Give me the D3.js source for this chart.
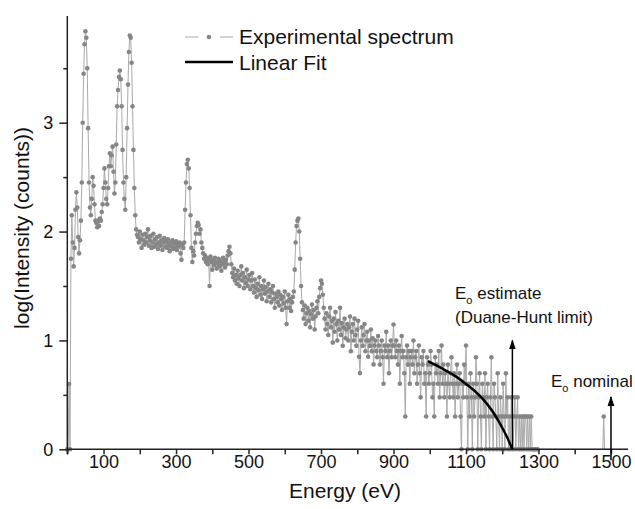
<!DOCTYPE html>
<html>
<head>
<meta charset="utf-8">
<script src="https://cdn.jsdelivr.net/npm/d3@7"></script>
<style>
  body { margin: 0; background: #fff; }
  svg { display: block; font-family: "Liberation Sans", Arial, sans-serif; }
</style>
</head>
<body>
<svg id="chart" width="635" height="509"></svg>
<script>
// log10 counts per 2.5 eV channel, starting at 0 eV (one line = 50 eV)
const energyStep = 2.5
const logCounts = [
  0, 0, 0.6, 0, 1.75, 2.15, 1.9, 1.68, 1.85, 2.2, 2.36, 2.22, 1.95, 1.8, 1.92, 2.1, 2.45, 3.0, 3.45, 3.72,          // 0
  3.84, 3.78, 3.5, 2.95, 2.45, 2.22, 2.15, 2.3, 2.5, 2.42, 2.25, 2.1, 2.08, 2.04, 2.1, 2.05, 2.12, 2.1, 2.18, 2.25,  // 50
  2.4, 2.58, 2.45, 2.3, 2.25, 2.4, 2.6, 2.72, 2.6, 2.7, 2.78, 2.55, 2.35, 2.45, 2.8, 3.15, 3.3, 3.42, 3.48, 3.4,     // 100
  3.15, 2.75, 2.45, 2.3, 2.2, 2.5, 2.95, 3.35, 3.65, 3.8, 3.78, 3.55, 3.15, 2.75, 2.4, 2.15, 2.02, 1.97, 1.95, 1.9,  // 150
  2.0, 1.93, 1.85, 1.97, 1.92, 1.88, 1.98, 1.9, 1.95, 2.02, 1.87, 1.92, 1.96, 1.85, 1.9, 1.98, 1.86, 1.93, 1.88, 1.95, // 200
  1.84, 1.9, 1.96, 1.87, 1.92, 1.83, 1.9, 1.94, 1.86, 1.91, 1.85, 1.93, 1.88, 1.82, 1.9, 1.86, 1.92, 1.84, 1.89, 1.85, // 250
  1.91, 1.83, 1.88, 1.86, 1.9, 1.8, 1.74, 1.88, 1.85, 1.9, 2.2, 2.45, 2.62, 2.66, 2.58, 2.4, 2.15, 1.85, 1.72, 1.82,  // 300
  1.78, 1.9, 1.98, 2.05, 2.08, 2.06, 1.98, 2.02, 1.9, 1.85, 1.8, 1.75, 1.78, 1.72, 1.76, 1.7, 1.74, 1.5, 1.77, 1.72,  // 350
  1.65, 1.74, 1.69, 1.76, 1.72, 1.66, 1.71, 1.75, 1.68, 1.73, 1.64, 1.7, 1.76, 1.72, 1.67, 1.74, 1.7, 1.78, 1.82, 1.86, // 400
  1.8, 1.7, 1.62, 1.58, 1.66, 1.55, 1.6, 1.52, 1.64, 1.57, 1.5, 1.6, 1.68, 1.55, 1.62, 1.48, 1.58, 1.53, 1.65, 1.5,   // 450
  1.56, 1.6, 1.47, 1.55, 1.62, 1.5, 1.44, 1.56, 1.48, 1.4, 1.52, 1.46, 1.58, 1.42, 1.5, 1.38, 1.47, 1.55, 1.43, 1.49,  // 500
  1.36, 1.45, 1.52, 1.4, 1.47, 1.35, 1.44, 1.5, 1.38, 1.3, 1.43, 1.4, 1.35, 1.45, 1.32, 1.42, 1.38, 1.28, 1.4, 1.34,   // 550
  1.45, 1.3, 1.15, 1.36, 1.42, 1.3, 1.38, 1.27, 1.35, 1.4, 1.45, 1.65, 1.9, 2.05, 2.1, 2.12, 2.0, 1.75, 1.5, 1.35,    // 600
  1.28, 1.2, 1.32, 1.15, 1.25, 1.3, 1.18, 1.27, 1.12, 1.24, 1.33, 1.2, 1.28, 1.1, 1.22, 1.3, 1.36, 1.25, 1.4, 1.48,   // 650
  1.55, 1.52, 1.42, 1.3, 1.2, 1.1, 1.25, 1.15, 1.05, 1.22, 1.3, 1.12, 1.18, 0.98, 1.2, 1.08, 1.26, 1.15, 1.0, 1.18,   // 700
  1.1, 1.3, 1.05, 1.16, 0.95, 1.12, 1.2, 1.02, 1.1, 1.15, 1.0, 1.12, 1.22, 0.9, 1.08, 1.15, 1.0, 1.2, 1.05, 0.95,     // 750
  1.1, 1.18, 0.85, 0.7, 1.0, 1.12, 0.95, 1.05, 1.15, 0.9, 1.0, 1.08, 0.85, 1.0, 0.95, 1.1, 0.9, 1.02, 0.78, 0.954,    // 800
  1.0, 0.903, 0.845, 1.041, 0.954, 0.778, 0.903, 1.0, 0.845, 0.602, 0.954, 0.903, 1.079, 0.845, 0.954, 0.699, 0.903, 1.0, 0.845, 0.954, // 850
  1.146, 0.954, 0.845, 1.0, 0.903, 0.778, 0.954, 0.602, 0.903, 1.041, 0.845, 0.903, 0.699, 0.301, 0.845, 0.954, 0.778, 0.903, 0.602, 0.845, // 900
  0.903, 0.778, 1.0, 0.699, 0.845, 0.903, 0.602, 0.778, 0.954, 0.699, 0.477, 0.845, 0.778, 0.903, 0.602, 0.699, 0.301, 0.845, 0.778, 0.602, // 950
  0.699, 0.903, 0.778, 0.477, 0.602, 0.301, 0.845, 0.699, 0.778, 0.602, 0.903, 0.477, 0.699, 0.954, 0.602, 0.778, 0.477, 0.699, 0.602, 0.301, // 1000
  0.778, 0.602, 0.477, 0.699, 0.845, 0.602, 0.477, 0.699, 0.301, 0.602, 0.778, 0.477, 0.602, 0.699, 0.301, 0, 0.602, 0.477, 0.778, 0.602, // 1050
  0.954, 0.477, 0, 0.602, 0.301, 0.699, 0.477, 0, 0.602, 0.301, 0.477, 0.845, 0.602, 0, 0.477, 0.699, 0.301, 0, 0.602, 0.477, // 1100
  0.301, 0.699, 0, 0.477, 0.602, 0.301, 0, 0.477, 0.845, 0.301, 0, 0.602, 0.477, 0.301, 0, 0.699, 0.301, 0, 0.477, 0.301, // 1150
  0, 0.602, 0.301, 0, 0.699, 0.301, 0.477, 0, 0.301, 0, 0.477, 0.301, 0, 0.301, 0.477, 0, 0.301, 0.477, 0, 0.301,     // 1200
  0, 0.301, 0, 0.301, 0, 0.301, 0.301, 0, 0.301, 0, 0.301, 0, 0.301, 0, 0, 0, 0, 0, 0, 0                                // 1250
]

// empty channels up to the end of the axis, one stray count pair near 1480 eV
const tailEnergy = [1300, 1477.5, 1480, 1482.5, 1547]
const tailCounts = [0, 0, 0.301, 0, 0]

// fitted curve
const fitEnergy = [995, 1030, 1074, 1100, 1129, 1150, 1175, 1203, 1215, 1228]
const fitLog = [0.81, 0.75, 0.665, 0.6, 0.52, 0.45, 0.34, 0.18, 0.1, 0]

// arrows: Duane-Hunt estimate and nominal beam energy
const arrowEnergy = [1228, 1500]
const arrowFrom = [0, -0.1]
const arrowTo = [1.0, 0.48]

const xTicks = d3.range(0, 1501, 100)
const xLabels = [100, 300, 500, 700, 900, 1100, 1300, 1500]
const yTicks = [0, 0.5, 1, 1.5, 2, 2.5, 3, 3.5]
const yLabels = [0, 1, 2, 3]

const svg = d3.select('#chart')

const x = d3.scaleLinear().domain([0, 1547]).range([67.3, 628])
const y = d3.scaleLinear().domain([0, 3.98]).range([449.3, 16])

const spectrum = logCounts.map((v, i) => ({ e: i * energyStep, v: v, dot: true }))
  .concat(tailEnergy.map((e, i) => ({ e: e, v: tailCounts[i], dot: tailCounts[i] > 0 })))

const line = d3.line().x(d => x(d.e)).y(d => y(d.v))

// 实验谱
svg.append('path')
  .datum(spectrum)
  .attr('d', line)
  .attr('fill', 'none')
  .attr('stroke', '#a9a9a9')
  .attr('stroke-width', 1)

svg.append('g').selectAll('circle').data(spectrum.filter(d => d.dot)).join('circle')
  .attr('cx', d => x(d.e))
  .attr('cy', d => y(d.v))
  .attr('r', 2.3)
  .attr('fill', '#868686')

// 拟合线
const fitLine = d3.line()
  .x((d, i) => x(fitEnergy[i]))
  .y(d => y(d))
  .curve(d3.curveMonotoneX)

svg.append('path')
  .datum(fitLog)
  .attr('d', fitLine)
  .attr('fill', 'none')
  .attr('stroke', '#000')
  .attr('stroke-width', 2.5)

// axes
const xAxis = svg.append('g')
  .attr('transform', `translate(0,${y(0)})`)
  .call(d3.axisBottom(x).tickValues(xTicks).tickSize(5).tickSizeOuter(0)
    .tickFormat(d => xLabels.includes(d) ? d : ''))
xAxis.select('.domain').attr('d', `M${x(0)},0H${x.range()[1]}`)

const yAxis = svg.append('g')
  .attr('transform', `translate(${x(0)},0)`)
  .call(d3.axisLeft(y).tickValues(yTicks).tickSizeOuter(0)
    .tickSize(0).tickFormat(d => yLabels.includes(d) ? d : ''))
yAxis.select('.domain').attr('d', `M0,${y(0) + 5}V${y.range()[1]}`)
yAxis.selectAll('.tick line').attr('x2', d => yLabels.includes(d) ? -8 : -4)

svg.selectAll('.domain, .tick line').attr('stroke', '#222').attr('stroke-width', 1.5)
xAxis.selectAll('.tick text').attr('y', 19).attr('dy', 0)
yAxis.selectAll('.tick text').attr('x', -14)
svg.selectAll('.tick text').attr('font-size', 18).attr('font-family', null).attr('fill', '#111')

// arrows
svg.append('defs').append('marker')
  .attr('id', 'head')
  .attr('viewBox', '0 0 10 8')
  .attr('refX', 9).attr('refY', 4)
  .attr('markerWidth', 10).attr('markerHeight', 8)
  .attr('markerUnits', 'userSpaceOnUse')
  .attr('orient', 'auto')
  .append('path').attr('d', 'M0,0.6 L10,4 L0,7.4 Z').attr('fill', '#000')

svg.append('g').selectAll('line').data(arrowEnergy).join('line')
  .attr('x1', d => x(d)).attr('x2', d => x(d))
  .attr('y1', (d, i) => y(arrowFrom[i]))
  .attr('y2', (d, i) => y(arrowTo[i]))
  .attr('stroke', '#000')
  .attr('stroke-width', 1.5)
  .attr('marker-end', 'url(#head)')

// annotation text
const note1 = svg.append('text').attr('x', 455).attr('y', 299).attr('font-size', 17).attr('fill', '#111')
note1.append('tspan').text('E')
note1.append('tspan').attr('font-size', 11).attr('dy', 5).text('o')
note1.append('tspan').attr('dy', -5).text(' estimate')
svg.append('text').attr('x', 455).attr('y', 323).attr('font-size', 17).attr('fill', '#111')
  .text('(Duane-Hunt limit)')

const note2 = svg.append('text').attr('x', 551).attr('y', 387).attr('font-size', 17).attr('fill', '#111')
note2.append('tspan').text('E')
note2.append('tspan').attr('font-size', 11).attr('dy', 5).text('o')
note2.append('tspan').attr('dy', -5).text(' nominal')

// legend
const legend = svg.append('g')
legend.selectAll('line.exp').data([[185, 198], [220, 233]]).join('line')
  .attr('class', 'exp')
  .attr('x1', d => d[0]).attr('x2', d => d[1])
  .attr('y1', 37).attr('y2', 37)
  .attr('stroke', '#a9a9a9').attr('stroke-width', 1)
legend.append('circle').attr('cx', 209).attr('cy', 37).attr('r', 2.3).attr('fill', '#868686')
legend.append('line')
  .attr('x1', 185).attr('x2', 233).attr('y1', 62).attr('y2', 62)
  .attr('stroke', '#000').attr('stroke-width', 2.5)
legend.selectAll('text').data(['Experimental spectrum', 'Linear Fit']).join('text')
  .attr('x', 239)
  .attr('y', (d, i) => 44 + 26 * i)
  .attr('font-size', 21)
  .attr('fill', '#111')
  .text(d => d)

// axis titles
svg.append('text')
  .attr('transform', 'translate(345,498)')
  .attr('text-anchor', 'middle')
  .attr('font-size', 21)
  .attr('fill', '#111')
  .text('Energy (eV)')

svg.append('text')
  .attr('transform', 'translate(29,228) rotate(-90)')
  .attr('text-anchor', 'middle')
  .attr('font-size', 21)
  .attr('fill', '#111')
  .text('log(Intensity (counts))')
</script>
</body>
</html>
